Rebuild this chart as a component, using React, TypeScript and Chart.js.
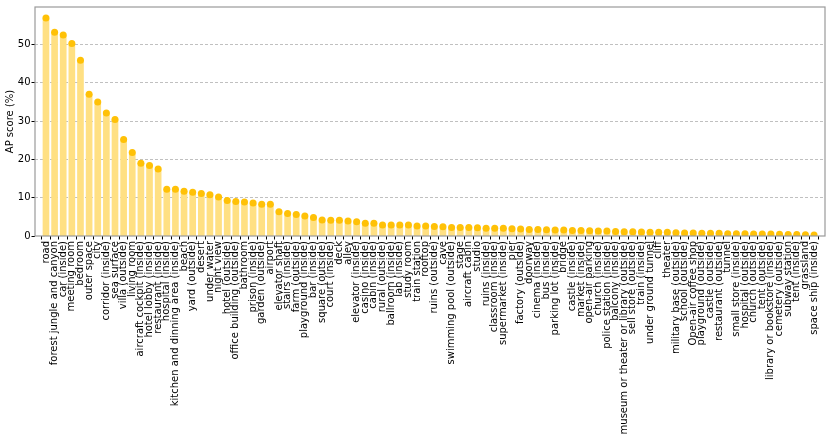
import React, { useEffect, useRef } from "react";
import { Chart, registerables } from "chart.js";

Chart.register(...registerables);

const categories: string[] = [
  "road", "forest jungle and canyon", "car (inside)", "meeting room", "bedroom",
  "outer space", "city", "corridor (inside)", "sea surface", "villa (outside)",
  "living room", "aircraft cockpit (inside)", "hotel lobby (inside)", "restaurant (inside)", "hospital (inside)",
  "kitchen and dinning area (inside)", "beach", "yard (outside)", "desert", "under water",
  "night view", "hotel (outside)", "office building (outside)", "bathroom", "prison (inside)",
  "garden (outside)", "airport", "elevator shaft", "stairs (inside)", "farm (outside)",
  "playground (inside)", "bar (inside)", "square (outside)", "court (inside)", "deck",
  "alley", "elevator (inside)", "casino (inside)", "cabin (inside)", "rural (outside)",
  "ballroom (inside)", "lab (inside)", "study room", "train station", "rooftop",
  "ruins (outside)", "cave", "swimming pool (outside)", "stage", "aircraft cabin",
  "studio", "ruins (inside)", "classroom (inside)", "supermarket (inside)", "pier",
  "factory (outside)", "doorway", "cinema (inside)", "bus (inside)", "parking lot (inside)",
  "bridge", "castle (inside)", "market (inside)", "open-air parking", "church (inside)",
  "police station (inside)", "balcony (inside)", "museum or theater or library (outside)", "sell store (outside)", "train (inside)",
  "under ground tunnel", "cliff", "theater", "military base (outside)", "school (outside)",
  "Open-air coffee shop", "playground (outside)", "castle (outside)", "restaurant (outside)", "tunnel",
  "small store (inside)", "hospital (outside)", "church (outside)", "tent (outside)", "library or bookstore (inside)",
  "cemetery (outside)", "subway station", "tent (inside)", "grassland", "space ship (inside)",
];

const apScores: number[] = [
  56.9, 53.2, 52.5, 50.3, 45.9,
  37.0, 35.0, 32.1, 30.4, 25.2,
  21.8, 19.0, 18.4, 17.5, 12.2,
  12.2, 11.7, 11.4, 11.1, 10.8,
  10.2, 9.3, 9.0, 8.9, 8.6,
  8.3, 8.3, 6.3, 5.9, 5.6,
  5.25, 4.8, 4.2, 4.1, 4.1,
  3.9, 3.7, 3.3, 3.3, 2.9,
  2.85, 2.85, 2.85, 2.6, 2.6,
  2.5, 2.4, 2.25, 2.25, 2.25,
  2.15, 2.05, 2.05, 2.0, 1.9,
  1.8, 1.7, 1.7, 1.6, 1.55,
  1.55, 1.45, 1.45, 1.4, 1.3,
  1.3, 1.2, 1.1, 1.1, 1.05,
  0.95, 0.95, 0.95, 0.85, 0.8,
  0.8, 0.7, 0.7, 0.7, 0.6,
  0.6, 0.6, 0.5, 0.5, 0.5,
  0.45, 0.4, 0.4, 0.35, 0.25,
];

const yTickValues: number[] = [0, 10, 20, 30, 40, 50];
const yAxisTitle = "AP score (%)";

const FONT = { family: "'DejaVu Sans', sans-serif", size: 10 };

const spinePlugin = {
  id: "spines",
  afterDraw(chart: any) {
    const { ctx, chartArea } = chart;
    ctx.save();
    ctx.strokeStyle = "#9a9a9a";
    ctx.lineWidth = 1.2;
    ctx.strokeRect(chartArea.left, chartArea.top, chartArea.right - chartArea.left, chartArea.bottom - chartArea.top);
    ctx.restore();
  },
};

export default function App() {
  const ref = useRef<HTMLCanvasElement | null>(null);

  useEffect(() => {
    document.body.style.margin = "0";
    if (!ref.current) return;
    const points = apScores.map((v, i) => ({ x: i, y: v }));
    const chart = new Chart(ref.current, {
      type: "bar",
      data: {
        datasets: [
          {
            type: "line",
            data: points,
            showLine: false,
            pointRadius: 3.5,
            pointHoverRadius: 3.5,
            pointBackgroundColor: "#FFC107",
            pointBorderWidth: 0,
            borderColor: "#FFC107",
            order: 0,
          } as any,
          {
            type: "bar",
            data: points,
            backgroundColor: "#FFE083",
            borderWidth: 0,
            barThickness: 6,
            order: 1,
          } as any,
        ],
      },
      options: {
        responsive: false,
        animation: false,
        layout: { padding: { top: 4.3, right: 5, left: 0, bottom: 0 } },
        plugins: { legend: { display: false }, tooltip: { enabled: false } },
        scales: {
          x: {
            type: "linear",
            min: -1.27,
            max: 90.27,
            offset: false,
            afterBuildTicks: (s: any) => {
              s.ticks = categories.map((_, i) => ({ value: i }));
            },
            afterFit: (s: any) => {
              s.height = 202;
            },
            ticks: {
              autoSkip: false,
              minRotation: 90,
              maxRotation: 90,
              padding: 1.5,
              color: "#000",
              font: FONT,
              callback: (v: any) => categories[v as number] ?? "",
            },
            grid: { drawOnChartArea: false, tickLength: 3.5, tickColor: "#000", color: "#000", tickWidth: 1 },
            border: { display: false },
          },
          y: {
            min: 0,
            max: 59.8,
            afterBuildTicks: (s: any) => {
              s.ticks = yTickValues.map((v) => ({ value: v }));
            },
            afterFit: (s: any) => {
              s.width = 35;
            },
            ticks: { color: "#000", font: FONT, padding: 1 },
            grid: {
              color: (c: any) => (c.tick && c.tick.value === 0 ? "rgba(0,0,0,0)" : "#b0b0b0"),
              lineWidth: 0.8,
              tickLength: 3.5,
              tickColor: "#000",
              tickWidth: 1,
            },
            border: { display: false, dash: [3, 2] },
            title: { display: true, text: yAxisTitle, color: "#000", font: FONT },
          },
        },
      } as any,
      plugins: [spinePlugin],
    });
    return () => chart.destroy();
  }, []);

  return (
    <div style={{ position: "absolute", left: 0, top: 0, width: 830, height: 438 }}>
      <canvas ref={ref} width={830} height={438} style={{ display: "block" }} />
    </div>
  );
}
